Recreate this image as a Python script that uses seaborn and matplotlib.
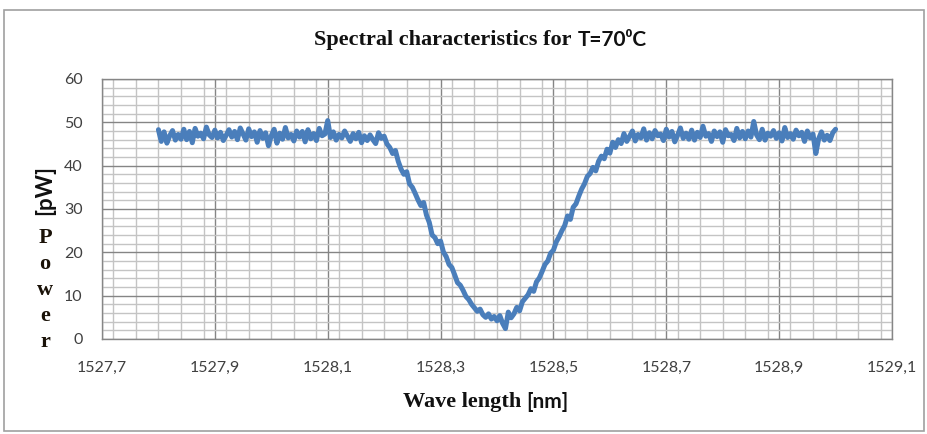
import seaborn as sns
import pandas as pd
import matplotlib.pyplot as plt
import matplotlib
import numpy as np
from matplotlib.ticker import MultipleLocator, FixedLocator
from matplotlib.patches import Rectangle

sns.set_style('white')
plt.rcParams['font.family'] = ['Lato', 'DejaVu Sans']

# wavelength sampling (nm) and measured power (pW)
wl_start = 1527.8
wl_step = 0.005
power = [
    # 1527.800 - 1528.200
    48.3, 45.6, 47.8, 45.2, 46.9, 48.1, 45.9, 47.2, 46.1, 48.4,
    46.0, 47.9, 45.3, 48.6, 46.8, 47.5, 46.2, 48.9, 47.1, 46.5,
    48.2, 46.4, 47.7, 45.8, 47.0, 48.3, 46.6, 47.9, 46.0, 48.7,
    47.3, 45.9, 48.5, 46.7, 47.8, 45.4, 48.1, 46.3, 47.6, 44.6,
    46.9, 48.4, 45.2, 47.5, 46.1, 48.8, 46.4, 47.2, 45.7, 48.0,
    46.6, 47.9, 45.5, 48.3, 46.2, 47.4, 45.8, 48.6, 46.9, 47.3,
    50.4, 46.5, 47.8, 45.9, 47.2, 46.4, 48.0, 46.8, 45.6, 47.4,
    46.2, 47.7, 45.3, 46.9, 45.8, 47.1, 46.0, 45.1, 47.6, 46.3,
    46.8,
    # dip 1528.205 - 1528.635
    45.0, 44.2, 42.8, 43.5, 41.0, 39.2, 38.0, 38.6, 35.8, 35.0,
    33.6, 32.1, 30.8, 31.5, 28.6, 26.9, 24.0, 23.4, 22.0, 22.6,
    20.1, 19.0, 17.2, 16.5, 14.8, 13.0, 12.4, 11.2, 9.8, 9.1,
    8.0, 7.2, 6.4, 6.9, 5.6, 5.0, 5.8, 4.6, 5.2, 4.2,
    5.4, 3.6, 2.4, 6.2, 4.9, 5.8, 7.3, 6.5, 8.6, 9.4,
    10.2, 11.6, 11.0, 13.2, 14.1, 15.6, 17.2, 18.0, 19.8, 20.5,
    22.4, 23.6, 25.0, 26.2, 28.4, 27.6, 30.4, 31.2, 33.0, 34.6,
    35.8, 37.5, 38.2, 39.6, 38.8, 41.0, 42.2, 41.6, 43.8, 42.9,
    45.4, 44.2, 46.0, 45.1, 47.4, 45.6, 46.8,
    # 1528.640 - 1529.000
    48.0, 45.7, 47.2, 46.4, 48.5, 45.9, 47.6, 46.2, 48.1, 46.9,
    47.3, 45.8, 48.4, 46.6, 47.9, 45.5, 47.0, 48.7, 46.3, 47.5,
    46.1, 48.2, 45.9, 47.7, 46.5, 49.1, 46.8, 47.4, 45.6, 48.0,
    46.7, 47.8, 45.4, 48.3, 46.9, 47.2, 45.8, 48.6, 46.4, 47.9,
    46.2, 48.0, 46.6, 50.2, 47.1, 46.0, 48.4, 45.9, 47.5, 46.8,
    48.1, 46.3, 47.6, 45.7, 48.8, 46.5, 47.4, 46.1, 48.2, 46.9,
    47.7, 45.6, 48.0, 46.4, 47.3, 42.8, 46.2, 47.8, 45.9, 47.0,
    45.8, 47.6, 48.4,
]
x_ticks = [1527.7, 1527.9, 1528.1, 1528.3, 1528.5, 1528.7, 1528.9, 1529.1]
x_labels = ['1527,7', '1527,9', '1528,1', '1528,3', '1528,5', '1528,7', '1528,9', '1529,1']
y_ticks = [0, 10, 20, 30, 40, 50, 60]

wavelength = np.round(wl_start + wl_step * np.arange(len(power)), 3)
df = pd.DataFrame({'wavelength': wavelength, 'power': power})

fig = plt.figure(figsize=(9.28, 4.34), dpi=100)
ax = fig.add_axes([102 / 928, 95 / 434, 790 / 928, 260 / 434])

sns.lineplot(data=df, x='wavelength', y='power', ax=ax, color='#4A7EBB',
             linewidth=3.6, zorder=3)

ax.set_xlim(1527.7, 1529.1)
ax.set_ylim(0, 60)
ax.xaxis.set_major_locator(FixedLocator(x_ticks))
ax.set_xticklabels(x_labels)
ax.xaxis.set_minor_locator(MultipleLocator(0.04))
ax.set_yticks(y_ticks)
ax.yaxis.set_minor_locator(MultipleLocator(2))
ax.grid(which='minor', color='#c4c4c4', linewidth=1.0, zorder=0)
ax.grid(which='major', color='#858585', linewidth=1.0, zorder=1)
ax.set_axisbelow(True)
ax.tick_params(which='both', length=0)
ax.tick_params(axis='x', pad=16, labelsize=11.5, labelcolor='#404040')
ax.tick_params(axis='y', pad=14, labelsize=11.5, labelcolor='#404040')
for sp in ax.spines.values():
    sp.set_color('#868686')
    sp.set_linewidth(1.0)
ax.set_xlabel('')
ax.set_ylabel('')

# title
fig.text(572 / 928, 1 - 40 / 434, 'Spectral characteristics for', ha='right', va='center',
         family='Liberation Serif', weight='bold', size=16, color='#111111')
fig.text(578 / 928, 1 - 40 / 434, 'T=70\u2070C', ha='left', va='center',
         family=['Lato', 'DejaVu Sans'], weight='bold', size=15, color='#111111')

# axis titles
fig.text(521 / 928, 1 - 402 / 434, 'Wave length', ha='right', va='center',
         family='Liberation Serif', weight='bold', size=16, color='#111111')
fig.text(526 / 928, 1 - 402 / 434, '[nm]', ha='left', va='center',
         weight='bold', size=15, color='#111111')
fig.text(45 / 928, 1 - 190 / 434, '[pW]', ha='center', va='center', rotation=90,
         weight='bold', size=16, color='#111111')
for i, ch in enumerate('Power'):
    fig.text(45 / 928, 1 - (238 + i * 26) / 434, ch, ha='center', va='center',
             family='Liberation Serif', weight='bold', size=16, color='#1a1208')

# outer chart frame
fig.patches.append(Rectangle((4 / 928, 3 / 434), 920 / 928, 421 / 434,
                             transform=fig.transFigure, fill=False,
                             edgecolor='#a0a0a0', linewidth=1.2))

plt.savefig('out.png', dpi=100)
